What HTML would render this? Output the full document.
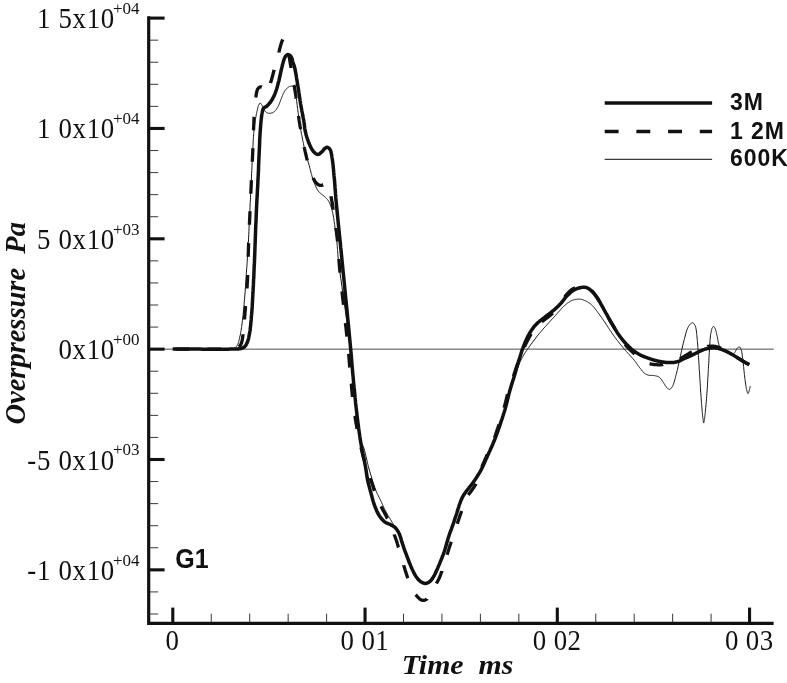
<!DOCTYPE html>
<html><head><meta charset="utf-8"><title>Overpressure G1</title>
<style>
html,body{margin:0;padding:0;background:#fff;}
body{width:787px;height:683px;overflow:hidden;}
svg{display:block;}
.tl{font-family:"Liberation Serif","Times New Roman",serif;font-size:29.2px;letter-spacing:0.76px;fill:#111;}
.sup{font-size:17px;letter-spacing:0;}
.ax{stroke:#111;stroke-width:3.2;fill:none;}
.maj{stroke:#111;stroke-width:3.1;}
.min{stroke:#222;stroke-width:0.9;}
.ttl{font-family:"Liberation Serif","Times New Roman",serif;font-weight:bold;font-style:italic;font-size:28px;fill:#111;}
.lg{font-family:"Liberation Sans",Arial,sans-serif;font-weight:bold;font-size:23px;letter-spacing:0.9px;fill:#111;}
.g1{font-family:"Liberation Sans",Arial,sans-serif;font-weight:bold;font-size:28.2px;fill:#111;}
.c{fill:none;stroke:#111;stroke-linejoin:round;}
</style></head>
<body>
<svg width="787" height="683" viewBox="0 0 787 683">
<rect width="787" height="683" fill="#fff"/>
<!-- zero line -->
<line x1="148.7" y1="349.15" x2="773.6" y2="349.15" stroke="#3a3a3a" stroke-width="0.9"/>
<!-- curves -->
<path class="c" stroke-width="3.5" d="M172.7 349.1L175.0 349.1 177.2 349.1 179.5 349.1 181.8 349.1 184.0 349.1 186.3 349.1 188.5 349.1 190.8 349.1 193.1 349.1 195.4 349.1 197.7 349.1 200.0 349.1 202.5 349.2 205.2 349.2 207.9 349.2 210.7 349.2 213.6 349.2 216.3 349.2 219.1 349.2 221.6 349.2 224.1 349.2 226.3 349.2 228.3 349.2 230.0 349.1 230.7 349.1 231.3 349.1 231.8 349.1 232.4 349.1 232.9 349.1 233.3 349.1 233.8 349.1 234.2 349.1 234.6 349.1 235.1 349.1 235.5 349.0 236.0 349.0 236.4 349.0 236.9 349.0 237.3 348.9 237.7 348.9 238.2 348.9 238.6 348.9 239.0 348.8 239.4 348.8 239.8 348.7 240.2 348.7 240.6 348.6 241.0 348.5 241.3 348.4 241.6 348.3 242.0 348.2 242.3 348.1 242.6 348.0 242.9 347.8 243.2 347.7 243.4 347.5 243.7 347.4 244.0 347.2 244.3 347.0 244.5 346.8 244.8 346.6 245.0 346.3 245.2 346.0 245.5 345.8 245.7 345.5 245.9 345.2 246.1 344.8 246.3 344.5 246.5 344.1 246.6 343.8 246.8 343.4 247.0 343.0 247.3 342.4 247.5 341.7 247.7 341.1 248.0 340.4 248.2 339.6 248.4 338.9 248.6 338.1 248.8 337.2 249.0 336.4 249.1 335.5 249.3 334.6 249.5 333.7 249.7 332.4 250.0 331.0 250.2 329.5 250.3 328.0 250.5 326.4 250.7 324.8 250.8 323.2 251.0 321.5 251.2 319.7 251.3 318.0 251.4 316.2 251.6 314.4 251.8 312.0 252.0 309.5 252.2 306.9 252.3 304.3 252.5 301.6 252.6 298.8 252.8 296.0 252.9 293.2 253.1 290.4 253.2 287.7 253.4 284.9 253.5 282.2 253.6 279.5 253.8 276.8 253.9 274.2 254.0 271.5 254.1 268.8 254.2 266.2 254.4 263.5 254.5 260.8 254.6 258.1 254.7 255.4 254.8 252.7 254.9 250.0 255.0 247.2 255.1 244.4 255.2 241.6 255.3 238.7 255.4 235.9 255.5 233.1 255.6 230.2 255.7 227.4 255.8 224.5 256.0 221.6 256.1 218.7 256.2 215.8 256.3 212.7 256.5 209.6 256.6 206.5 256.8 203.4 256.9 200.2 257.1 197.1 257.3 193.9 257.4 190.7 257.6 187.5 257.8 184.2 257.9 180.9 258.1 177.6 258.3 173.7 258.5 169.6 258.6 165.4 258.8 161.0 259.0 156.6 259.2 152.3 259.4 148.0 259.6 143.8 259.7 139.9 259.9 136.3 260.1 132.9 260.3 130.0 260.4 128.6 260.5 127.3 260.6 126.1 260.7 124.9 260.8 123.8 260.9 122.7 261.0 121.7 261.1 120.7 261.2 119.7 261.3 118.8 261.4 117.9 261.5 117.0 261.6 116.4 261.7 115.7 261.7 115.1 261.8 114.5 261.9 114.0 262.0 113.4 262.1 112.9 262.2 112.3 262.3 111.8 262.4 111.4 262.5 110.9 262.6 110.5 262.7 110.2 262.8 110.0 262.8 109.8 262.9 109.5 263.0 109.3 263.1 109.1 263.2 108.9 263.3 108.7 263.4 108.5 263.5 108.3 263.7 108.2 263.8 108.0 264.0 107.8 264.2 107.7 264.4 107.5 264.6 107.4 264.8 107.3 265.1 107.2 265.3 107.1 265.6 106.9 265.8 106.8 266.1 106.7 266.4 106.5 266.6 106.3 267.0 106.0 267.4 105.6 267.8 105.2 268.2 104.8 268.6 104.3 269.0 103.8 269.4 103.3 269.9 102.8 270.3 102.3 270.7 101.8 271.0 101.2 271.4 100.7 271.8 100.1 272.2 99.5 272.5 98.9 272.9 98.2 273.2 97.5 273.6 96.9 273.9 96.2 274.2 95.5 274.5 94.8 274.8 94.1 275.1 93.3 275.4 92.6 275.7 91.7 276.0 90.9 276.3 90.0 276.6 89.1 276.9 88.1 277.2 87.2 277.4 86.2 277.7 85.3 277.9 84.3 278.2 83.3 278.4 82.4 278.7 81.4 279.0 80.4 279.2 79.3 279.5 78.2 279.7 77.1 280.0 76.0 280.2 74.9 280.4 73.8 280.7 72.7 280.9 71.6 281.1 70.5 281.4 69.5 281.6 68.5 281.8 67.7 282.0 66.9 282.2 66.0 282.4 65.2 282.6 64.4 282.8 63.6 283.0 62.9 283.2 62.1 283.4 61.4 283.6 60.7 283.8 60.1 284.0 59.5 284.1 59.1 284.3 58.8 284.4 58.4 284.5 58.1 284.7 57.8 284.8 57.5 285.0 57.2 285.1 57.0 285.3 56.7 285.4 56.4 285.6 56.2 285.8 56.0 286.0 55.8 286.1 55.7 286.3 55.5 286.5 55.3 286.7 55.2 286.8 55.0 287.0 54.9 287.2 54.8 287.4 54.7 287.6 54.7 287.8 54.6 288.0 54.6 288.2 54.6 288.5 54.7 288.7 54.8 289.0 54.9 289.3 55.0 289.6 55.2 289.8 55.4 290.1 55.6 290.3 55.8 290.6 56.0 290.8 56.3 291.0 56.5 291.2 56.9 291.5 57.3 291.7 57.7 291.8 58.2 292.0 58.7 292.2 59.3 292.3 59.8 292.4 60.4 292.6 60.9 292.7 61.5 292.8 62.0 293.0 62.5 293.1 62.9 293.3 63.3 293.4 63.7 293.5 64.1 293.7 64.4 293.8 64.8 293.9 65.2 294.1 65.6 294.2 66.0 294.3 66.5 294.5 67.0 294.6 67.5 294.9 68.6 295.1 69.9 295.4 71.3 295.7 72.8 296.0 74.4 296.3 76.1 296.5 77.8 296.8 79.5 297.1 81.2 297.4 82.9 297.6 84.6 297.9 86.2 298.2 87.8 298.4 89.4 298.7 91.0 298.9 92.7 299.2 94.3 299.4 95.9 299.6 97.6 299.9 99.2 300.1 100.8 300.4 102.4 300.6 104.0 300.9 105.5 301.1 106.9 301.4 108.3 301.7 109.7 301.9 111.1 302.2 112.5 302.5 113.8 302.7 115.2 303.0 116.5 303.2 117.8 303.5 119.1 303.7 120.4 303.9 121.6 304.1 122.6 304.2 123.5 304.3 124.4 304.4 125.3 304.5 126.2 304.6 127.1 304.7 127.9 304.8 128.8 305.0 129.6 305.1 130.5 305.3 131.4 305.5 132.3 305.8 133.3 306.0 134.4 306.3 135.4 306.6 136.5 307.0 137.6 307.3 138.6 307.7 139.7 308.1 140.7 308.4 141.8 308.8 142.8 309.2 143.7 309.6 144.6 309.9 145.3 310.2 146.0 310.5 146.7 310.9 147.3 311.2 148.0 311.5 148.6 311.9 149.2 312.2 149.8 312.6 150.4 312.9 150.9 313.3 151.4 313.7 151.8 314.0 152.1 314.3 152.4 314.7 152.7 315.0 153.0 315.3 153.3 315.7 153.6 316.0 153.8 316.4 154.0 316.8 154.2 317.1 154.3 317.5 154.4 317.8 154.4 318.1 154.4 318.5 154.3 318.8 154.1 319.2 154.0 319.6 153.7 319.9 153.5 320.3 153.2 320.6 152.9 320.9 152.6 321.3 152.3 321.6 152.1 321.9 151.8 322.2 151.5 322.5 151.2 322.7 150.9 323.0 150.6 323.2 150.3 323.5 150.0 323.7 149.6 324.0 149.3 324.2 149.0 324.5 148.8 324.7 148.5 325.0 148.3 325.2 148.2 325.4 148.0 325.6 147.9 325.8 147.8 326.0 147.6 326.2 147.5 326.4 147.4 326.6 147.4 326.8 147.3 327.0 147.3 327.2 147.3 327.4 147.3 327.6 147.4 327.9 147.4 328.1 147.6 328.4 147.7 328.6 147.9 328.8 148.1 329.1 148.3 329.3 148.6 329.5 148.8 329.7 149.1 329.9 149.4 330.1 149.7 330.4 150.2 330.6 150.7 330.8 151.3 331.0 151.9 331.1 152.5 331.3 153.2 331.4 153.9 331.6 154.7 331.7 155.5 331.8 156.3 332.0 157.1 332.1 157.9 332.3 159.2 332.5 160.6 332.7 162.1 332.9 163.7 333.1 165.3 333.2 167.0 333.4 168.7 333.6 170.4 333.7 172.2 333.9 173.9 334.0 175.7 334.2 177.4 334.4 179.3 334.6 181.3 334.7 183.3 334.9 185.4 335.0 187.4 335.2 189.5 335.4 191.6 335.5 193.7 335.7 195.8 335.8 197.9 336.0 199.9 336.2 202.0 336.4 204.1 336.6 206.1 336.8 208.2 337.0 210.2 337.2 212.3 337.4 214.3 337.6 216.4 337.8 218.4 338.0 220.5 338.2 222.5 338.4 224.6 338.6 226.6 338.8 228.5 339.0 230.3 339.2 232.1 339.3 233.8 339.5 235.6 339.7 237.3 339.9 239.1 340.1 241.0 340.3 243.0 340.5 245.2 340.7 247.5 341.0 250.0 341.6 256.1 342.3 263.2 343.1 271.3 344.0 280.1 344.9 289.4 345.8 298.9 346.8 308.5 347.7 317.9 348.6 326.9 349.4 335.3 350.1 342.9 350.7 349.4 351.0 352.6 351.3 355.5 351.5 358.3 351.7 360.9 351.9 363.4 352.1 365.8 352.3 368.1 352.5 370.4 352.7 372.8 352.9 375.1 353.2 377.5 353.4 380.0 353.6 382.6 353.9 385.1 354.1 387.7 354.4 390.2 354.6 392.8 354.9 395.3 355.1 397.9 355.4 400.5 355.6 403.0 355.9 405.6 356.2 408.1 356.5 410.7 356.8 413.3 357.1 415.9 357.4 418.5 357.7 421.1 358.1 423.7 358.4 426.2 358.7 428.8 359.1 431.4 359.5 434.0 359.8 436.5 360.2 439.0 360.6 441.5 361.0 443.8 361.4 446.2 361.9 448.5 362.3 450.9 362.8 453.3 363.2 455.6 363.7 457.9 364.2 460.1 364.6 462.2 365.0 464.3 365.4 466.3 365.7 468.1 365.9 469.3 366.1 470.4 366.2 471.4 366.4 472.4 366.5 473.4 366.7 474.4 366.8 475.3 366.9 476.2 367.1 477.2 367.2 478.1 367.4 479.0 367.6 480.0 367.8 481.0 368.0 481.9 368.2 482.9 368.5 483.8 368.7 484.7 369.0 485.7 369.2 486.6 369.5 487.6 369.7 488.5 370.0 489.5 370.2 490.4 370.5 491.4 370.8 492.5 371.1 493.6 371.4 494.7 371.7 495.8 372.0 497.0 372.3 498.1 372.6 499.2 372.9 500.4 373.2 501.5 373.6 502.6 373.9 503.7 374.3 504.7 374.6 505.6 375.0 506.6 375.3 507.5 375.7 508.4 376.1 509.3 376.5 510.2 376.8 511.1 377.2 512.0 377.7 512.8 378.1 513.6 378.5 514.4 379.0 515.2 379.4 515.9 379.9 516.5 380.3 517.1 380.7 517.7 381.2 518.3 381.7 518.9 382.2 519.5 382.7 520.0 383.2 520.5 383.7 521.0 384.2 521.5 384.7 521.9 385.2 522.2 385.6 522.5 386.1 522.8 386.6 523.0 387.1 523.2 387.6 523.4 388.1 523.6 388.6 523.8 389.1 524.0 389.6 524.2 390.0 524.5 390.5 524.7 390.9 524.9 391.3 525.1 391.7 525.4 392.2 525.6 392.6 525.8 393.0 526.0 393.4 526.2 393.7 526.5 394.1 526.7 394.5 527.0 394.9 527.3 395.2 527.6 395.6 528.0 395.9 528.4 396.3 528.8 396.6 529.2 396.9 529.7 397.2 530.1 397.5 530.6 397.8 531.1 398.1 531.6 398.4 532.2 398.7 532.7 399.0 533.3 399.4 534.1 399.7 534.9 400.0 535.8 400.3 536.7 400.7 537.7 401.0 538.7 401.2 539.7 401.5 540.7 401.8 541.7 402.1 542.7 402.5 543.7 402.8 544.7 403.2 545.8 403.6 546.9 403.9 548.0 404.3 549.1 404.7 550.2 405.1 551.4 405.5 552.5 406.0 553.6 406.4 554.7 406.8 555.8 407.2 556.9 407.6 558.0 408.0 559.0 408.4 560.0 408.7 561.0 409.1 562.0 409.5 563.0 409.9 563.9 410.3 564.9 410.7 565.9 411.1 566.8 411.5 567.7 411.9 568.6 412.3 569.5 412.7 570.3 413.1 571.0 413.4 571.8 413.8 572.6 414.2 573.3 414.6 574.1 415.0 574.8 415.4 575.5 415.8 576.2 416.2 576.8 416.7 577.4 417.1 578.0 417.5 578.5 417.9 578.9 418.2 579.3 418.6 579.8 419.0 580.2 419.4 580.6 419.9 580.9 420.3 581.3 420.7 581.6 421.1 581.9 421.5 582.2 421.9 582.4 422.2 582.6 422.5 582.7 422.8 582.9 423.2 583.0 423.5 583.1 423.8 583.2 424.1 583.3 424.4 583.3 424.8 583.4 425.1 583.4 425.4 583.4 425.7 583.4 426.0 583.4 426.3 583.3 426.7 583.2 427.0 583.1 427.3 583.0 427.6 582.9 428.0 582.7 428.3 582.6 428.6 582.4 428.9 582.2 429.2 582.0 429.5 581.8 429.8 581.5 430.2 581.2 430.5 580.9 430.8 580.5 431.2 580.2 431.5 579.8 431.8 579.4 432.1 579.0 432.4 578.5 432.7 578.1 433.0 577.6 433.3 577.1 433.7 576.4 434.2 575.6 434.6 574.8 435.0 574.0 435.4 573.1 435.8 572.3 436.2 571.3 436.6 570.4 437.1 569.5 437.5 568.5 437.9 567.6 438.3 566.6 438.8 565.5 439.3 564.4 439.8 563.2 440.2 562.1 440.7 560.9 441.2 559.7 441.7 558.5 442.2 557.2 442.6 556.0 443.1 554.8 443.6 553.5 444.0 552.3 444.4 551.0 444.9 549.6 445.3 548.2 445.7 546.9 446.1 545.5 446.5 544.0 446.9 542.6 447.3 541.3 447.7 539.9 448.1 538.6 448.5 537.3 448.9 536.0 449.2 535.0 449.6 533.9 449.9 532.9 450.3 531.9 450.7 531.0 451.0 530.0 451.4 529.1 451.7 528.1 452.0 527.2 452.4 526.3 452.7 525.4 453.0 524.5 453.3 523.8 453.5 523.1 453.7 522.4 454.0 521.7 454.2 521.0 454.4 520.4 454.6 519.7 454.8 519.0 455.1 518.3 455.3 517.6 455.5 516.9 455.8 516.1 456.2 515.0 456.6 513.7 457.0 512.5 457.4 511.1 457.8 509.7 458.2 508.4 458.7 507.0 459.1 505.6 459.5 504.3 460.0 503.1 460.4 501.9 460.8 500.9 461.1 500.3 461.3 499.6 461.6 499.1 461.8 498.5 462.1 498.0 462.4 497.4 462.6 496.9 462.9 496.4 463.1 496.0 463.4 495.5 463.7 495.0 464.0 494.5 464.3 494.1 464.6 493.6 464.9 493.2 465.2 492.8 465.5 492.4 465.8 492.0 466.1 491.5 466.4 491.1 466.7 490.7 467.1 490.3 467.4 489.9 467.7 489.5 468.0 489.1 468.4 488.6 468.7 488.2 469.1 487.7 469.4 487.3 469.8 486.8 470.2 486.4 470.5 485.9 470.9 485.5 471.3 485.0 471.6 484.5 472.0 484.0 472.4 483.4 472.9 482.8 473.4 482.1 473.8 481.4 474.3 480.7 474.8 480.1 475.3 479.4 475.7 478.7 476.2 478.0 476.7 477.3 477.1 476.6 477.5 476.0 477.8 475.4 478.2 474.9 478.5 474.4 478.8 473.9 479.1 473.4 479.4 472.9 479.7 472.4 480.0 471.9 480.3 471.3 480.6 470.7 481.0 470.1 481.3 469.5 481.8 468.5 482.3 467.5 482.8 466.3 483.4 465.2 483.9 464.0 484.5 462.7 485.0 461.5 485.6 460.2 486.1 458.9 486.7 457.7 487.3 456.4 487.8 455.2 488.4 454.0 488.9 452.7 489.5 451.5 490.1 450.2 490.6 449.0 491.2 447.7 491.8 446.5 492.3 445.2 492.9 443.9 493.4 442.6 494.0 441.3 494.5 440.0 495.1 438.6 495.6 437.1 496.2 435.6 496.8 434.0 497.3 432.5 497.9 431.0 498.4 429.4 499.0 427.9 499.5 426.4 500.0 424.9 500.5 423.4 501.0 421.9 501.4 420.6 501.9 419.3 502.3 418.0 502.7 416.7 503.1 415.5 503.5 414.2 503.9 413.0 504.3 411.7 504.7 410.5 505.1 409.2 505.4 408.0 505.8 406.7 506.1 405.4 506.5 404.2 506.8 402.9 507.1 401.6 507.4 400.4 507.7 399.1 508.0 397.8 508.3 396.5 508.6 395.3 508.9 394.0 509.3 392.7 509.6 391.4 510.0 390.0 510.4 388.7 510.8 387.3 511.2 385.9 511.6 384.6 512.1 383.2 512.5 381.8 512.9 380.4 513.4 379.1 513.8 377.7 514.2 376.3 514.6 375.0 515.0 373.7 515.4 372.4 515.7 371.2 516.1 369.9 516.4 368.6 516.8 367.3 517.2 366.1 517.5 364.8 517.9 363.6 518.3 362.3 518.6 361.1 519.0 359.9 519.4 358.8 519.7 357.6 520.1 356.5 520.4 355.4 520.8 354.3 521.1 353.2 521.5 352.1 521.8 351.0 522.2 349.9 522.6 348.8 523.0 347.8 523.4 346.7 523.8 345.7 524.2 344.7 524.6 343.7 525.0 342.7 525.4 341.7 525.8 340.7 526.3 339.7 526.7 338.7 527.2 337.8 527.6 336.8 528.1 335.9 528.6 335.0 529.1 334.1 529.6 333.3 530.1 332.5 530.6 331.6 531.1 330.8 531.7 330.0 532.2 329.2 532.8 328.4 533.3 327.7 533.9 326.9 534.5 326.2 535.1 325.5 535.7 324.9 536.2 324.3 536.8 323.7 537.4 323.1 538.0 322.6 538.7 322.0 539.3 321.5 539.9 321.0 540.6 320.5 541.2 320.0 541.8 319.4 542.5 318.9 543.2 318.3 543.9 317.8 544.6 317.3 545.3 316.7 546.1 316.2 546.8 315.6 547.5 315.1 548.3 314.6 549.0 314.0 549.8 313.5 550.5 312.9 551.2 312.3 551.9 311.7 552.7 311.0 553.5 310.4 554.2 309.8 555.0 309.1 555.7 308.4 556.4 307.8 557.2 307.1 557.9 306.4 558.6 305.7 559.3 305.0 560.0 304.3 560.7 303.6 561.3 302.9 561.9 302.1 562.5 301.3 563.1 300.6 563.7 299.8 564.3 299.0 564.9 298.3 565.4 297.6 566.0 296.8 566.7 296.2 567.3 295.5 567.9 294.9 568.5 294.4 569.1 293.8 569.7 293.3 570.3 292.7 570.9 292.2 571.5 291.7 572.1 291.2 572.8 290.8 573.4 290.3 574.1 290.0 574.7 289.6 575.3 289.3 575.9 289.0 576.5 288.8 577.2 288.6 577.8 288.3 578.5 288.2 579.1 288.0 579.7 287.8 580.3 287.7 580.9 287.6 581.5 287.5 582.0 287.4 582.3 287.3 582.7 287.3 583.0 287.3 583.3 287.2 583.6 287.2 583.9 287.2 584.2 287.2 584.5 287.2 584.8 287.2 585.1 287.3 585.4 287.3 585.7 287.4 586.1 287.5 586.5 287.6 586.9 287.8 587.2 287.9 587.6 288.1 588.0 288.3 588.4 288.5 588.8 288.8 589.2 289.0 589.6 289.3 590.0 289.6 590.4 289.9 590.9 290.4 591.5 290.9 592.0 291.4 592.6 292.0 593.2 292.6 593.7 293.2 594.3 293.9 594.8 294.6 595.4 295.3 595.9 296.0 596.5 296.8 597.0 297.5 597.7 298.5 598.3 299.5 598.9 300.5 599.6 301.6 600.2 302.7 600.8 303.8 601.5 305.0 602.1 306.1 602.7 307.3 603.4 308.4 604.0 309.6 604.6 310.7 605.2 311.8 605.8 312.9 606.5 314.0 607.1 315.1 607.7 316.2 608.3 317.4 608.9 318.5 609.5 319.6 610.1 320.7 610.8 321.8 611.4 322.8 612.0 323.9 612.6 324.9 613.2 325.9 613.8 326.9 614.4 327.9 615.0 328.9 615.6 329.9 616.2 330.9 616.8 331.9 617.4 332.8 618.0 333.8 618.7 334.7 619.3 335.6 619.9 336.4 620.5 337.2 621.1 338.0 621.7 338.7 622.3 339.5 622.9 340.2 623.5 340.9 624.1 341.7 624.7 342.4 625.3 343.1 626.0 343.7 626.6 344.4 627.2 345.0 627.8 345.6 628.4 346.2 629.0 346.8 629.6 347.4 630.2 347.9 630.8 348.5 631.4 349.0 632.0 349.5 632.6 350.0 633.3 350.5 633.9 351.0 634.5 351.4 635.1 351.8 635.7 352.3 636.3 352.6 636.9 353.0 637.5 353.4 638.1 353.8 638.7 354.1 639.3 354.4 640.0 354.8 640.6 355.1 641.2 355.4 641.8 355.7 642.4 356.0 643.0 356.2 643.6 356.5 644.3 356.7 644.9 357.0 645.5 357.2 646.1 357.4 646.8 357.6 647.4 357.9 648.0 358.1 648.6 358.3 649.2 358.5 649.8 358.7 650.3 358.9 650.9 359.1 651.5 359.3 652.0 359.5 652.6 359.7 653.2 359.8 653.8 360.0 654.3 360.2 654.9 360.3 655.5 360.5 656.1 360.7 656.7 360.8 657.3 360.9 657.9 361.1 658.5 361.2 659.1 361.4 659.7 361.5 660.4 361.6 661.0 361.7 661.6 361.8 662.2 361.9 662.8 362.0 663.4 362.1 664.0 362.2 664.6 362.2 665.2 362.3 665.8 362.4 666.4 362.4 667.0 362.5 667.6 362.5 668.2 362.6 668.8 362.6 669.4 362.6 670.0 362.6 670.6 362.6 671.2 362.6 671.9 362.5 672.5 362.5 673.1 362.4 673.7 362.4 674.4 362.3 675.0 362.2 675.6 362.1 676.2 362.0 676.8 361.9 677.4 361.7 678.0 361.5 678.5 361.3 679.1 361.1 679.6 360.9 680.2 360.6 680.7 360.3 681.3 360.1 681.8 359.8 682.3 359.5 682.9 359.2 683.4 359.0 684.0 358.7 684.6 358.4 685.2 358.2 685.9 357.9 686.5 357.6 687.1 357.4 687.8 357.1 688.4 356.8 689.1 356.5 689.7 356.3 690.3 356.0 691.0 355.7 691.6 355.4 692.2 355.1 692.8 354.8 693.4 354.5 694.0 354.2 694.7 353.9 695.3 353.5 695.9 353.2 696.5 352.9 697.1 352.6 697.7 352.3 698.3 352.0 698.9 351.7 699.5 351.4 700.1 351.2 700.7 350.9 701.3 350.6 701.9 350.3 702.5 350.1 703.1 349.8 703.7 349.6 704.4 349.4 705.0 349.2 705.6 349.0 706.2 348.8 706.8 348.6 707.4 348.5 708.1 348.4 708.7 348.3 709.4 348.2 710.0 348.1 710.6 348.0 711.3 347.9 711.9 347.9 712.5 347.8 713.0 347.8 713.6 347.8 714.0 347.8 714.4 347.8 714.8 347.8 715.1 347.9 715.5 347.9 715.8 348.0 716.2 348.0 716.5 348.1 716.9 348.2 717.3 348.2 717.6 348.3 718.0 348.4 718.5 348.5 718.9 348.6 719.4 348.8 719.9 348.9 720.3 349.0 720.8 349.2 721.3 349.4 721.8 349.5 722.3 349.7 722.8 349.9 723.3 350.1 723.8 350.3 724.4 350.5 725.0 350.8 725.6 351.1 726.2 351.4 726.8 351.7 727.4 352.0 728.0 352.3 728.7 352.6 729.3 352.9 729.9 353.2 730.5 353.6 731.1 353.9 731.7 354.2 732.4 354.6 733.0 355.0 733.6 355.3 734.2 355.7 734.9 356.1 735.5 356.5 736.1 356.8 736.7 357.2 737.3 357.6 737.9 357.9 738.5 358.3 739.0 358.6 739.5 358.9 740.0 359.3 740.5 359.6 741.0 359.9 741.5 360.2 741.9 360.5 742.4 360.8 742.9 361.2 743.4 361.4 743.8 361.7 744.3 362.0 744.7 362.2 745.2 362.5 745.6 362.7 746.0 362.9 746.4 363.1 746.9 363.3 747.3 363.5 747.7 363.7 748.1 363.9 748.6 364.1 749.0 364.3 749.4 364.5"/>
<path class="c" stroke-width="3.3" d="M175.7 349.1L176.1 349.1 177.3 349.1 178.4 349.1 179.5 349.1 180.7 349.1 181.8 349.1 183.0 349.1 184.1 349.1 185.3 349.1 186.4 349.1 187.5 349.1 188.7 349.1 189.3 349.1 M207.5 349.2L208.1 349.2 209.3 349.2 210.5 349.2 211.7 349.2 212.9 349.2 214.1 349.2 215.2 349.2 216.4 349.2 217.5 349.2 218.6 349.2 219.6 349.2 220.7 349.2 221.1 349.2 M238.9 346.9L238.9 346.9 239.0 346.8 239.1 346.7 239.2 346.6 239.3 346.5 239.4 346.4 239.5 346.3 239.6 346.2 239.7 346.1 239.8 346.0 239.9 345.8 240.0 345.7 240.1 345.6 240.2 345.5 240.2 345.4 240.3 345.2 240.4 345.1 240.5 345.0 240.6 344.9 240.7 344.7 240.8 344.6 240.8 344.4 240.9 344.3 241.0 344.1 241.0 344.0 241.1 343.8 241.2 343.7 241.2 343.5 241.3 343.4 241.4 343.2 241.4 343.1 241.5 342.9 241.5 342.7 241.6 342.5 241.6 342.4 241.7 342.2 241.7 342.0 241.8 341.8 241.8 341.6 241.9 341.4 241.9 341.2 242.0 341.0 242.1 340.7 242.2 340.3 242.2 339.9 242.3 339.5 242.4 339.1 242.5 338.7 242.5 338.3 242.6 337.8 242.7 337.4 242.7 336.9 242.8 336.5 242.8 336.0 242.9 335.5 243.0 335.0 243.0 334.6 243.0 334.3 M244.5 319.6L244.5 319.0 244.6 318.3 244.6 317.5 244.7 316.8 244.7 316.0 244.8 315.2 244.9 314.4 244.9 313.6 245.0 312.8 245.1 311.7 245.2 310.5 245.3 309.4 245.4 308.2 245.5 306.9 245.6 306.0 M247.0 288.6L247.0 288.4 247.1 287.1 247.2 285.8 247.2 284.4 247.3 283.1 247.4 281.8 247.5 280.5 247.5 279.2 247.6 277.8 247.6 276.5 247.7 275.2 247.7 275.0 M248.2 256.8L248.2 256.6 248.2 255.3 248.3 254.0 248.3 252.7 248.4 251.3 248.4 250.0 248.4 248.7 248.5 247.3 248.5 246.0 248.6 244.7 248.6 243.3 248.7 243.2 M249.4 224.8L249.4 224.6 249.5 223.3 249.5 222.0 249.6 220.6 249.6 219.3 249.7 218.0 249.8 216.7 249.8 215.4 249.9 214.1 249.9 212.8 250.0 211.5 250.0 211.2 M250.8 193.8L250.8 193.5 250.9 192.2 250.9 190.9 251.0 189.6 251.0 188.3 251.1 187.0 251.2 185.7 251.2 184.4 251.3 183.0 251.3 181.7 251.4 180.4 251.4 180.2 M252.3 161.8L252.3 161.7 252.4 160.3 252.4 159.0 252.5 157.7 252.5 156.3 252.6 155.0 252.7 153.7 252.7 152.3 252.8 151.0 252.8 149.6 252.9 148.3 252.9 148.2 M253.5 130.4L253.6 129.4 253.6 128.2 253.7 127.0 253.7 125.8 253.8 124.7 253.8 123.6 253.8 122.8 253.9 122.1 253.9 121.4 253.9 120.6 253.9 119.9 254.0 119.2 254.0 118.5 254.0 117.9 254.0 117.2 254.1 116.8 M255.7 97.5L255.7 97.5 255.8 97.0 255.9 96.6 256.0 96.1 256.0 95.7 256.1 95.2 256.2 94.7 256.3 94.3 256.3 93.8 256.4 93.4 256.5 92.9 256.6 92.5 256.7 92.0 256.8 91.6 256.9 91.2 257.0 90.8 257.1 90.4 257.3 90.1 257.4 89.7 257.5 89.4 257.7 89.1 257.8 88.8 258.0 88.6 258.1 88.5 258.2 88.3 258.3 88.2 258.4 88.1 258.5 88.0 258.6 87.9 258.8 87.8 258.9 87.7 259.0 87.6 259.1 87.5 259.3 87.4 259.4 87.3 259.5 87.2 259.6 87.2 259.8 87.1 259.9 87.1 260.0 87.0 260.2 87.0 260.3 86.9 260.4 86.9 260.5 86.9 260.7 86.8 260.8 86.8 260.9 86.8 261.0 86.8 261.1 86.8 261.2 86.8 261.3 86.8 261.5 86.8 261.6 86.9 261.7 86.9 261.7 86.9 M270.5 83.0L270.5 82.9 270.6 82.6 270.7 82.4 270.8 82.1 270.9 81.8 271.0 81.5 271.1 81.2 271.2 80.9 271.2 80.6 271.3 80.3 271.4 80.0 271.5 79.7 271.6 79.4 271.7 79.1 271.7 78.9 271.8 78.6 271.9 78.3 272.0 78.0 272.1 77.7 272.2 77.4 272.2 77.1 272.3 76.8 272.4 76.5 272.5 76.2 272.6 75.9 272.6 75.6 272.7 75.3 272.8 75.1 272.9 74.8 272.9 74.5 273.0 74.2 273.1 73.9 273.2 73.6 273.2 73.3 273.3 73.0 273.4 72.7 273.5 72.5 273.5 72.2 273.6 71.9 273.7 71.6 273.7 71.3 273.8 71.0 273.9 70.7 274.0 70.4 274.0 70.1 274.1 69.9 M278.8 52.6L278.8 52.3 278.9 52.0 279.0 51.6 279.1 51.3 279.2 51.0 279.3 50.6 279.4 50.3 279.5 49.9 279.5 49.6 279.6 49.2 279.7 48.9 279.8 48.6 279.9 48.2 280.0 47.9 280.1 47.6 280.1 47.2 280.2 46.9 280.3 46.6 280.4 46.3 280.5 46.0 280.6 45.7 280.6 45.5 280.7 45.2 280.8 45.0 280.9 44.7 280.9 44.5 281.0 44.2 281.1 44.0 281.2 43.7 281.2 43.5 281.3 43.3 281.4 43.0 281.5 42.8 281.5 42.6 281.6 42.3 281.7 42.1 281.8 41.9 281.8 41.7 281.9 41.5 282.0 41.3 282.1 41.1 282.1 40.9 282.2 40.7 282.3 40.5 282.4 40.4 282.4 40.3 282.5 40.1 282.5 40.0 282.6 39.9 282.6 39.8 282.7 39.6 282.7 39.6 M288.7 54.5L288.8 54.8 288.9 55.2 289.0 55.7 289.1 56.1 289.2 56.6 289.2 57.0 289.3 57.5 289.4 57.9 289.5 58.4 289.6 58.9 289.6 59.3 289.7 59.8 289.8 60.3 289.9 60.7 289.9 61.2 290.0 61.7 290.1 62.2 290.2 62.7 290.2 63.1 290.3 63.6 290.4 64.1 290.5 64.6 290.5 65.0 290.6 65.5 290.7 66.0 290.8 66.5 290.9 67.0 291.0 67.5 291.0 67.9 M294.1 85.1L294.2 85.4 294.3 86.0 294.4 86.5 294.4 87.1 294.5 87.7 294.6 88.3 294.7 88.9 294.8 89.4 294.9 90.0 295.0 90.6 295.1 91.2 295.2 91.8 295.3 92.4 295.4 93.0 295.5 93.7 295.6 94.3 295.7 94.9 295.8 95.5 295.9 96.2 296.0 96.8 296.0 97.4 296.1 98.1 296.2 98.5 M298.6 115.9L298.6 116.1 298.7 116.8 298.8 117.4 298.8 118.1 298.9 118.7 299.0 119.4 299.1 120.0 299.2 120.7 299.3 121.3 299.4 122.0 299.5 122.6 299.6 123.2 299.7 123.9 299.8 124.5 299.9 125.2 300.0 125.8 300.1 126.5 300.2 127.1 300.4 127.7 300.5 128.4 300.6 129.0 300.6 129.3 M304.2 147.2L304.2 147.3 304.4 148.0 304.5 148.6 304.7 149.3 304.8 150.0 305.0 150.6 305.1 151.3 305.3 151.9 305.4 152.5 305.6 153.2 305.7 153.8 305.8 154.4 306.0 154.9 306.1 155.5 306.2 156.1 306.4 156.7 306.5 157.2 306.6 157.8 306.7 158.3 306.9 158.9 307.0 159.4 307.1 160.0 307.2 160.4 M313.1 178.0L313.3 178.4 313.4 178.7 313.6 178.9 313.7 179.2 313.9 179.4 314.0 179.7 314.1 179.9 314.3 180.2 314.4 180.4 314.6 180.6 314.7 180.9 314.8 181.1 315.0 181.3 315.1 181.5 315.3 181.7 315.4 181.9 315.6 182.1 315.7 182.3 315.9 182.5 316.0 182.7 316.2 182.9 316.3 183.0 316.5 183.2 316.6 183.3 316.8 183.5 316.9 183.6 317.1 183.7 317.2 183.8 317.3 183.9 317.4 184.0 317.6 184.1 317.7 184.2 317.8 184.3 318.0 184.4 318.1 184.5 318.2 184.6 318.4 184.7 318.5 184.7 318.6 184.8 318.8 184.9 318.9 184.9 319.0 185.0 319.2 185.1 319.3 185.1 319.5 185.2 319.6 185.2 319.7 185.2 319.9 185.3 320.0 185.3 320.1 185.3 320.2 185.3 320.4 185.4 320.5 185.4 320.6 185.4 320.7 185.4 320.8 185.4 321.0 185.4 321.1 185.4 321.2 185.4 321.3 185.3 321.4 185.3 321.6 185.3 321.7 185.3 321.8 185.3 321.9 185.3 322.0 185.2 322.2 185.2 322.3 185.2 322.4 185.1 322.5 185.1 322.7 185.1 322.8 185.0 322.9 185.0 323.0 185.0 323.2 184.9 M331.0 196.3L331.0 196.5 331.1 196.9 331.1 197.2 331.2 197.6 331.3 197.9 331.4 198.3 331.4 198.7 331.5 199.0 331.6 199.4 331.6 199.8 331.7 200.2 331.8 200.6 331.8 200.9 331.9 201.3 332.0 201.7 332.1 202.2 332.1 202.6 332.2 203.0 332.3 203.6 332.4 204.2 332.5 204.8 332.6 205.4 332.7 206.0 332.8 206.7 332.9 207.3 333.0 208.0 333.1 208.7 333.2 209.3 333.2 209.7 M335.9 228.1L335.9 228.2 336.0 228.9 336.1 229.6 336.2 230.2 336.3 230.9 336.4 231.5 336.5 232.2 336.5 232.8 336.6 233.5 336.7 234.1 336.8 234.8 336.9 235.4 337.0 236.1 337.0 236.7 337.1 237.3 337.2 238.0 337.2 238.6 337.3 239.2 337.4 239.9 337.4 240.5 337.5 241.1 337.5 241.6 M338.9 259.1L338.9 259.7 339.0 260.3 339.0 261.0 339.1 261.8 339.1 262.5 339.2 263.3 339.3 264.1 339.3 265.0 339.4 265.9 339.6 268.2 339.8 270.7 340.0 272.7 M342.0 291.4L342.3 294.2 342.7 298.1 343.2 302.1 343.5 304.9 M345.4 323.1L345.8 326.1 346.2 329.9 346.6 333.6 346.9 336.6 M348.6 353.9L348.6 353.9 348.8 355.4 348.9 356.8 349.0 358.1 349.1 359.4 349.2 360.7 349.3 362.0 349.4 363.2 349.5 364.4 349.6 365.6 349.7 366.8 349.8 367.5 M351.2 383.5L351.3 383.8 351.4 385.1 351.5 386.4 351.6 387.7 351.7 389.0 351.8 390.2 352.0 391.5 352.1 392.8 352.2 394.1 352.3 395.4 352.5 396.6 352.5 397.0 M354.8 415.7L354.9 415.9 355.1 417.2 355.3 418.5 355.5 419.8 355.7 421.1 355.9 422.4 356.1 423.7 356.4 425.0 356.6 426.3 356.8 427.6 357.1 428.9 357.1 429.1 M360.9 447.3L360.9 447.3 361.2 448.4 361.5 449.6 361.8 450.7 362.0 451.9 362.3 453.0 362.6 454.2 362.9 455.3 363.2 456.4 363.5 457.5 363.8 458.6 364.1 459.7 364.3 460.4 M370.1 478.1L370.2 478.6 370.5 479.2 370.7 479.9 371.0 480.5 371.2 481.2 371.5 481.9 371.7 482.5 371.9 483.2 372.2 483.8 372.4 484.5 372.6 485.1 372.8 485.7 373.0 486.4 373.2 487.0 373.4 487.6 373.5 488.2 373.7 488.8 373.9 489.4 374.1 490.0 374.2 490.7 374.3 491.0 M380.9 506.5L381.2 507.0 381.6 507.5 381.9 508.1 382.2 508.6 382.5 509.2 382.8 509.7 383.1 510.3 383.4 510.8 383.7 511.3 384.0 511.9 384.3 512.4 384.5 512.9 384.8 513.3 385.0 513.8 385.2 514.2 385.5 514.7 385.7 515.1 385.9 515.6 386.2 516.0 386.4 516.5 386.6 516.9 386.8 517.4 387.0 517.8 387.2 518.2 387.4 518.5 M394.3 534.5L394.3 534.6 394.4 535.0 394.6 535.3 394.7 535.6 394.8 536.0 394.9 536.3 395.1 536.7 395.2 537.0 395.3 537.4 395.4 537.7 395.5 538.1 395.7 538.4 395.8 538.7 395.9 539.1 396.0 539.5 396.1 539.8 396.3 540.2 396.4 540.5 396.5 540.9 396.6 541.3 396.8 541.7 396.9 542.1 397.0 542.5 397.1 542.9 397.3 543.3 397.4 543.8 397.5 544.2 397.6 544.6 397.8 545.0 397.9 545.4 398.0 545.9 398.1 546.3 398.3 546.7 398.4 547.2 398.5 547.4 M403.7 565.3L403.7 565.4 403.9 565.8 404.0 566.2 404.1 566.7 404.3 567.1 404.4 567.5 404.5 568.0 404.6 568.4 404.8 568.8 404.9 569.3 405.0 569.7 405.2 570.1 405.3 570.5 405.4 571.0 405.6 571.4 405.7 571.8 405.8 572.2 406.0 572.6 406.1 573.0 406.2 573.4 406.4 573.9 406.5 574.3 406.6 574.7 406.8 575.1 406.9 575.5 407.0 575.9 407.2 576.3 407.3 576.7 407.4 577.1 407.6 577.6 407.7 578.0 407.8 578.3 M415.7 594.7L415.8 594.8 416.0 595.0 416.2 595.2 416.3 595.4 416.5 595.6 416.7 595.8 416.9 596.1 417.1 596.3 417.2 596.5 417.4 596.7 417.6 596.9 417.8 597.1 418.0 597.3 418.2 597.5 418.4 597.7 418.6 597.9 418.8 598.1 419.0 598.3 419.2 598.5 419.4 598.7 419.6 598.8 419.8 599.0 419.9 599.1 420.1 599.3 420.3 599.4 420.5 599.5 420.6 599.6 420.8 599.6 420.9 599.7 421.0 599.8 421.1 599.8 421.3 599.9 421.4 600.0 421.5 600.0 421.6 600.1 421.8 600.1 421.9 600.2 422.0 600.2 422.1 600.2 422.3 600.3 422.4 600.3 422.5 600.3 422.6 600.3 422.8 600.4 422.9 600.4 423.0 600.4 423.1 600.4 423.3 600.4 423.4 600.4 423.5 600.4 423.6 600.4 423.8 600.4 423.9 600.4 424.0 600.3 424.1 600.3 424.3 600.3 424.4 600.3 424.5 600.2 424.7 600.2 424.8 600.2 424.9 600.1 425.1 600.1 425.2 600.0 425.3 599.9 425.5 599.9 425.6 599.8 425.7 599.8 425.8 599.7 426.0 599.6 426.1 599.5 426.2 599.5 426.3 599.4 426.5 599.3 426.6 599.2 426.8 599.1 426.8 599.0 M436.4 583.5L436.5 583.3 436.7 582.9 436.9 582.6 437.1 582.3 437.3 581.9 437.5 581.6 437.7 581.2 437.8 580.9 438.0 580.5 438.2 580.2 438.4 579.8 438.6 579.4 438.8 579.1 439.0 578.7 439.1 578.3 439.3 577.9 439.5 577.5 439.7 577.0 439.9 576.4 440.2 575.9 440.4 575.3 440.6 574.8 440.8 574.2 441.0 573.6 441.2 573.0 441.4 572.4 441.7 571.8 441.9 571.2 441.9 571.1 M447.1 554.7L447.1 554.7 447.3 554.0 447.5 553.4 447.7 552.8 447.9 552.1 448.1 551.5 448.3 550.8 448.5 550.2 448.7 549.5 448.9 548.9 449.1 548.2 449.3 547.6 449.5 547.0 449.7 546.3 449.9 545.6 450.1 545.0 450.4 544.3 450.6 543.7 450.8 543.0 451.0 542.4 451.2 541.8 M457.2 523.8L457.4 523.2 457.6 522.7 457.8 522.1 458.0 521.5 458.2 520.9 458.4 520.4 458.6 519.8 458.8 519.2 459.0 518.6 459.2 518.0 459.4 517.4 459.6 516.7 459.8 516.1 460.1 515.5 460.3 514.8 460.5 514.2 460.7 513.5 461.0 512.8 461.2 512.2 461.4 511.5 461.6 510.9 M468.3 495.0L468.3 495.0 468.5 494.7 468.7 494.4 468.8 494.2 469.0 493.9 469.2 493.7 469.4 493.4 469.5 493.2 469.7 493.0 469.9 492.7 470.1 492.5 470.3 492.2 470.5 492.0 470.7 491.8 470.8 491.5 471.0 491.3 471.2 491.0 471.4 490.8 471.6 490.5 471.8 490.3 471.9 490.0 472.1 489.8 472.3 489.5 472.5 489.2 472.7 488.9 472.9 488.7 473.1 488.4 473.3 488.1 473.5 487.8 473.7 487.5 473.9 487.3 474.1 487.0 474.2 486.7 474.4 486.4 474.6 486.1 474.8 485.8 475.0 485.5 475.2 485.2 475.4 484.9 475.6 484.6 475.8 484.3 475.9 484.0 476.0 483.8 M481.9 466.8L482.0 466.4 482.3 465.8 482.6 465.2 482.8 464.5 483.1 463.9 483.4 463.3 483.7 462.7 483.9 462.1 484.2 461.4 484.5 460.8 484.8 460.2 485.1 459.6 485.3 458.9 485.6 458.3 485.9 457.7 486.2 457.1 486.5 456.4 486.7 455.8 487.0 455.2 487.3 454.6 487.4 454.3 M494.5 437.7L494.7 437.1 495.0 436.3 495.2 435.6 495.5 434.8 495.8 434.0 496.0 433.3 496.3 432.5 496.6 431.7 496.8 431.0 497.1 430.2 497.3 429.4 497.6 428.7 497.9 427.9 498.1 427.1 498.4 426.4 498.6 425.6 498.8 424.9 498.9 424.8 M504.2 407.6L504.2 407.3 504.4 406.7 504.6 406.1 504.7 405.4 504.9 404.8 505.1 404.2 505.2 403.5 505.4 402.9 505.5 402.3 505.7 401.6 505.9 401.0 506.0 400.4 506.2 399.7 506.3 399.1 506.5 398.4 506.6 397.8 506.8 397.2 506.9 396.5 507.1 395.9 507.2 395.3 507.4 394.6 507.5 394.4 M513.3 376.3L513.6 375.7 513.8 375.0 514.0 374.4 514.2 373.7 514.5 373.1 514.7 372.4 514.9 371.8 515.1 371.1 515.3 370.5 515.5 369.9 515.7 369.2 515.9 368.6 516.2 367.9 516.4 367.3 516.6 366.7 516.8 366.0 517.0 365.4 517.2 364.8 517.4 364.2 517.7 363.6 517.7 363.4 M524.9 345.9L525.0 345.9 525.2 345.4 525.4 344.9 525.6 344.4 525.8 344.0 526.1 343.5 526.3 343.0 526.5 342.5 526.7 342.1 526.9 341.6 527.2 341.1 527.4 340.7 527.6 340.2 527.9 339.8 528.1 339.3 528.3 338.9 528.6 338.4 528.8 338.0 529.0 337.5 529.3 337.1 529.5 336.6 529.8 336.2 530.0 335.8 530.3 335.4 530.5 335.0 530.8 334.6 531.0 334.2 531.2 333.9 M542.0 321.7L542.2 321.6 542.5 321.3 542.9 321.0 543.2 320.8 543.5 320.5 543.8 320.2 544.2 319.9 544.5 319.7 544.9 319.4 545.2 319.1 545.6 318.9 545.9 318.6 546.3 318.3 546.7 318.1 547.0 317.8 547.4 317.5 547.8 317.3 548.1 317.0 548.5 316.7 548.8 316.4 549.2 316.2 549.6 315.9 549.9 315.6 550.3 315.3 550.6 315.0 551.0 314.7 551.3 314.4 551.7 314.1 552.0 313.8 552.4 313.5 552.6 313.2 M564.8 296.9L564.9 296.9 565.1 296.4 565.4 296.0 565.7 295.6 566.0 295.2 566.3 294.9 566.6 294.5 566.9 294.2 567.2 293.9 567.4 293.6 567.7 293.3 568.0 292.9 568.3 292.6 568.6 292.4 568.9 292.1 569.2 291.8 569.5 291.5 569.8 291.2 570.1 290.9 570.4 290.7 570.7 290.4 571.1 290.2 571.4 289.9 571.7 289.7 572.0 289.5 572.3 289.2 572.7 289.0 573.0 288.8 573.3 288.6 573.7 288.5 574.0 288.3 574.3 288.2 574.6 288.0 574.8 288.0 M591.6 290.6L591.8 290.9 592.1 291.2 592.4 291.4 592.6 291.7 592.9 292.0 593.1 292.3 593.4 292.6 593.7 292.9 593.9 293.3 594.2 293.6 594.4 293.9 594.7 294.3 594.9 294.6 595.2 295.0 595.5 295.3 595.7 295.7 596.0 296.0 596.2 296.4 596.5 296.8 596.7 297.1 597.0 297.5 597.3 298.0 597.6 298.5 598.0 299.0 598.3 299.5 598.6 300.0 598.9 300.5 599.2 301.0 599.6 301.6 599.6 301.6 M608.4 317.5L608.6 317.9 608.9 318.5 609.2 319.0 609.5 319.6 609.8 320.1 610.1 320.7 610.4 321.2 610.8 321.8 611.1 322.3 611.4 322.8 611.7 323.4 612.0 323.9 612.3 324.4 612.6 324.9 612.9 325.4 613.2 325.9 613.5 326.4 613.8 326.9 614.1 327.4 614.4 327.9 614.7 328.4 615.0 328.9 615.2 329.2 M625.1 344.4L625.4 344.8 625.7 345.1 626.0 345.5 626.3 345.8 626.6 346.2 626.8 346.5 627.1 346.8 627.4 347.1 627.7 347.4 628.0 347.7 628.2 348.0 628.5 348.3 628.8 348.6 629.1 348.9 629.4 349.2 629.7 349.5 630.0 349.7 630.3 350.0 630.6 350.3 630.9 350.6 631.2 350.9 631.5 351.1 631.8 351.4 632.1 351.7 632.4 352.0 632.7 352.2 633.0 352.5 633.3 352.8 633.6 353.0 633.9 353.3 634.2 353.6 634.5 353.8 634.7 354.0 M649.6 363.6L649.6 363.6 650.0 363.7 650.3 363.8 650.6 363.9 650.8 364.0 651.1 364.0 651.4 364.1 651.6 364.2 651.9 364.2 652.2 364.3 652.4 364.3 652.7 364.4 652.9 364.4 653.2 364.4 653.5 364.5 653.7 364.5 654.0 364.5 654.2 364.5 654.5 364.6 654.7 364.6 655.0 364.6 655.3 364.6 655.5 364.6 655.8 364.7 656.0 364.7 656.3 364.7 656.6 364.7 656.8 364.7 657.1 364.7 657.3 364.8 657.6 364.8 657.8 364.8 658.1 364.8 658.3 364.8 658.6 364.8 658.9 364.8 659.1 364.8 659.4 364.8 659.6 364.8 659.9 364.8 660.1 364.8 660.4 364.8 660.7 364.8 660.9 364.7 661.2 364.7 661.4 364.7 661.7 364.7 662.0 364.7 662.2 364.6 662.5 364.6 662.8 364.6 663.1 364.5 M680.1 358.7L680.2 358.7 680.4 358.6 680.6 358.5 680.8 358.3 681.1 358.2 681.3 358.1 681.5 357.9 681.8 357.8 682.0 357.7 682.2 357.5 682.5 357.4 682.7 357.2 683.0 357.1 683.2 356.9 683.5 356.8 683.7 356.6 684.0 356.5 684.3 356.3 684.5 356.2 684.8 356.0 685.0 355.9 685.3 355.7 685.5 355.6 685.8 355.4 686.0 355.3 686.2 355.2 686.5 355.0 686.7 354.9 687.0 354.7 687.2 354.6 687.5 354.4 687.7 354.3 687.9 354.1 688.2 354.0 688.4 353.8 688.7 353.7 688.9 353.5 689.1 353.4 689.4 353.2 689.6 353.1 689.9 352.9 690.1 352.8 690.4 352.6 690.6 352.5 690.9 352.3 691.1 352.2 691.4 352.1 691.6 351.9 691.8 351.8 M707.5 346.5L707.6 346.5 707.7 346.4 707.8 346.4 708.0 346.4 708.1 346.4 708.2 346.3 708.3 346.3 708.4 346.3 708.5 346.3 708.7 346.3 708.8 346.2 708.9 346.2 709.1 346.2 709.2 346.2 709.4 346.2 709.6 346.2 709.8 346.2 710.0 346.1 710.2 346.1 710.4 346.1 710.6 346.1 710.8 346.1 711.0 346.1 711.2 346.1 711.4 346.1 711.7 346.1 711.9 346.1 712.1 346.1 712.3 346.1 712.6 346.1 712.8 346.2 713.0 346.2 713.2 346.2 713.4 346.2 713.7 346.2 713.9 346.2 714.1 346.3 714.3 346.3 714.5 346.3 714.7 346.4 714.9 346.4 715.2 346.4 715.4 346.5 715.6 346.5 715.8 346.6 716.0 346.6 716.2 346.6 716.4 346.7 716.6 346.7 716.9 346.8 717.1 346.8 717.3 346.9 717.5 347.0 717.7 347.0 717.9 347.1 718.1 347.2 718.3 347.2 718.6 347.3 718.8 347.4 719.0 347.4 719.2 347.5 719.4 347.6 719.6 347.7 719.9 347.8 720.1 347.9 720.3 348.0 720.6 348.1 720.8 348.2 720.8 348.2 M737.4 357.8L737.5 357.9 737.8 358.1 738.0 358.2 738.3 358.4 738.5 358.5 738.8 358.7 739.1 358.8 739.3 359.0 739.6 359.2 739.8 359.3 740.1 359.5 740.3 359.6 740.6 359.8 740.9 359.9 741.1 360.1 741.4 360.2 741.6 360.4 741.9 360.5 742.2 360.7 742.4 360.8 742.7 361.0 742.9 361.1 743.2 361.3 743.5 361.5 743.7 361.6 744.0 361.8 744.2 361.9 744.5 362.1 744.7 362.2 745.0 362.4 745.3 362.5 745.5 362.7 745.8 362.8 746.0 363.0 746.3 363.1 746.6 363.3 746.8 363.4 747.1 363.6 747.3 363.7 747.6 363.9 747.8 364.0 748.1 364.2 748.4 364.3 748.6 364.5 748.9 364.6 749.1 364.7"/>
<path class="c" stroke-width="1.0" d="M172.7 349.1L175.0 349.1 177.3 349.1 179.6 349.1 181.9 349.1 184.2 349.1 186.5 349.1 188.7 349.1 191.0 349.1 193.3 349.1 195.6 349.1 197.8 349.1 200.0 349.1 202.1 349.2 204.3 349.2 206.5 349.2 208.7 349.2 210.9 349.2 213.1 349.2 215.2 349.2 217.2 349.2 219.2 349.2 220.9 349.2 222.6 349.2 224.0 349.1 224.6 349.1 225.2 349.1 225.8 349.1 226.3 349.1 226.8 349.1 227.3 349.1 227.8 349.1 228.2 349.1 228.7 349.1 229.1 349.1 229.6 349.0 230.0 349.0 230.4 349.0 230.8 348.9 231.1 348.9 231.5 348.9 231.9 348.9 232.2 348.8 232.6 348.8 232.9 348.7 233.2 348.7 233.6 348.6 233.9 348.4 234.2 348.3 234.5 348.1 234.8 347.9 235.1 347.7 235.4 347.5 235.7 347.2 235.9 347.0 236.2 346.7 236.5 346.4 236.7 346.0 237.0 345.7 237.2 345.4 237.4 345.0 237.7 344.5 237.9 343.9 238.2 343.3 238.4 342.7 238.6 342.1 238.8 341.4 238.9 340.7 239.1 340.0 239.3 339.3 239.5 338.5 239.6 337.8 239.8 337.0 240.0 336.0 240.3 334.9 240.5 333.8 240.7 332.6 240.9 331.5 241.1 330.3 241.3 329.0 241.5 327.8 241.7 326.5 241.8 325.2 242.0 323.9 242.2 322.5 242.4 320.7 242.7 318.9 242.9 316.9 243.1 315.0 243.3 313.0 243.5 310.9 243.7 308.8 243.9 306.7 244.1 304.6 244.2 302.5 244.4 300.4 244.6 298.3 244.8 296.0 245.0 293.7 245.2 291.3 245.3 288.9 245.5 286.4 245.7 284.0 245.8 281.6 246.0 279.2 246.1 276.8 246.3 274.5 246.4 272.2 246.6 270.0 246.7 268.2 246.9 266.5 247.0 264.9 247.1 263.3 247.2 261.7 247.3 260.1 247.4 258.5 247.6 256.9 247.7 255.2 247.8 253.6 247.9 251.8 248.0 250.0 248.1 247.6 248.3 245.1 248.4 242.5 248.5 239.9 248.6 237.2 248.8 234.4 248.9 231.7 249.0 228.9 249.1 226.1 249.3 223.4 249.4 220.7 249.5 218.0 249.6 215.4 249.7 212.8 249.9 210.2 250.0 207.6 250.1 205.1 250.2 202.5 250.4 199.9 250.5 197.4 250.6 194.8 250.8 192.2 250.9 189.6 251.0 187.0 251.1 184.3 251.3 181.6 251.4 178.9 251.5 176.1 251.6 173.3 251.8 170.6 251.9 167.8 252.0 165.1 252.1 162.5 252.3 159.9 252.4 157.4 252.5 155.0 252.6 153.1 252.7 151.3 252.8 149.5 252.9 147.7 253.0 145.9 253.1 144.2 253.1 142.5 253.2 140.9 253.3 139.3 253.4 137.8 253.5 136.3 253.6 135.0 253.7 134.2 253.7 133.4 253.8 132.7 253.8 131.9 253.9 131.2 253.9 130.6 254.0 129.9 254.0 129.3 254.1 128.6 254.2 128.0 254.2 127.3 254.3 126.7 254.4 126.1 254.4 125.5 254.5 125.0 254.6 124.4 254.7 123.9 254.8 123.3 254.8 122.8 254.9 122.2 255.0 121.7 255.1 121.1 255.2 120.6 255.3 120.0 255.4 119.4 255.5 118.7 255.7 118.0 255.8 117.4 255.9 116.7 256.1 116.0 256.2 115.3 256.3 114.6 256.5 114.0 256.6 113.3 256.8 112.6 256.9 112.0 257.0 111.4 257.1 110.8 257.3 110.2 257.4 109.7 257.5 109.1 257.6 108.5 257.8 107.9 257.9 107.4 258.0 106.9 258.2 106.4 258.3 105.9 258.5 105.5 258.6 105.2 258.7 105.0 258.9 104.7 259.0 104.4 259.1 104.2 259.3 103.9 259.4 103.7 259.5 103.5 259.7 103.4 259.8 103.2 260.0 103.1 260.1 103.1 260.2 103.1 260.4 103.2 260.5 103.2 260.6 103.3 260.8 103.5 260.9 103.6 261.0 103.8 261.2 104.0 261.3 104.1 261.4 104.3 261.6 104.5 261.7 104.7 261.9 105.0 262.1 105.3 262.2 105.6 262.4 105.9 262.6 106.2 262.8 106.6 262.9 107.0 263.1 107.3 263.3 107.7 263.4 108.0 263.6 108.4 263.8 108.7 264.0 109.0 264.1 109.3 264.3 109.6 264.4 109.9 264.6 110.2 264.7 110.5 264.9 110.8 265.0 111.1 265.2 111.3 265.4 111.6 265.6 111.8 265.8 112.0 266.0 112.2 266.3 112.3 266.5 112.5 266.7 112.6 267.0 112.8 267.3 112.9 267.6 113.0 267.8 113.1 268.1 113.2 268.4 113.2 268.7 113.3 269.0 113.3 269.4 113.3 269.8 113.3 270.2 113.3 270.6 113.2 271.0 113.1 271.4 113.0 271.8 112.9 272.2 112.8 272.7 112.6 273.1 112.4 273.4 112.2 273.8 112.0 274.2 111.7 274.6 111.4 274.9 111.1 275.3 110.7 275.6 110.3 276.0 109.9 276.3 109.5 276.6 109.0 276.9 108.5 277.2 108.1 277.5 107.6 277.8 107.1 278.1 106.5 278.4 105.9 278.7 105.3 279.0 104.6 279.3 103.9 279.5 103.2 279.8 102.5 280.1 101.8 280.3 101.1 280.6 100.4 280.8 99.8 281.1 99.1 281.4 98.5 281.6 97.8 281.9 97.2 282.1 96.5 282.4 95.9 282.6 95.3 282.9 94.6 283.2 94.0 283.4 93.4 283.7 92.9 284.0 92.3 284.3 91.8 284.5 91.4 284.8 91.0 285.0 90.6 285.3 90.3 285.6 89.9 285.8 89.6 286.1 89.2 286.4 88.9 286.6 88.6 286.9 88.3 287.2 88.0 287.5 87.8 287.8 87.6 288.0 87.4 288.3 87.2 288.5 87.1 288.8 86.9 289.1 86.8 289.4 86.6 289.6 86.5 289.9 86.4 290.2 86.3 290.4 86.3 290.7 86.2 290.9 86.2 291.1 86.1 291.3 86.1 291.5 86.1 291.8 86.1 292.0 86.1 292.2 86.1 292.4 86.1 292.6 86.1 292.7 86.2 292.9 86.3 293.1 86.4 293.3 86.6 293.6 86.9 293.8 87.2 294.0 87.6 294.1 88.1 294.3 88.5 294.5 89.0 294.6 89.5 294.8 90.1 294.9 90.7 295.1 91.2 295.2 91.8 295.4 92.8 295.7 93.9 295.9 95.0 296.0 96.3 296.2 97.6 296.4 98.9 296.6 100.2 296.7 101.6 296.9 103.0 297.1 104.4 297.2 105.7 297.4 107.0 297.6 108.3 297.7 109.6 297.9 110.9 298.1 112.2 298.2 113.5 298.4 114.8 298.6 116.1 298.8 117.4 298.9 118.7 299.1 120.0 299.3 121.3 299.5 122.6 299.7 123.9 299.9 125.2 300.2 126.5 300.4 127.8 300.6 129.2 300.9 130.5 301.1 131.8 301.3 133.1 301.6 134.4 301.8 135.6 302.1 136.8 302.3 138.0 302.5 139.0 302.7 139.9 302.8 140.7 303.0 141.6 303.2 142.5 303.4 143.3 303.6 144.1 303.7 145.0 303.9 145.9 304.1 146.8 304.4 147.7 304.6 148.7 304.9 150.1 305.3 151.5 305.7 153.0 306.1 154.6 306.5 156.1 307.0 157.7 307.4 159.3 307.9 161.0 308.3 162.5 308.8 164.1 309.2 165.6 309.6 167.1 309.9 168.4 310.3 169.6 310.6 170.9 310.9 172.1 311.2 173.4 311.6 174.6 311.9 175.8 312.2 177.0 312.6 178.1 312.9 179.3 313.3 180.4 313.7 181.5 314.1 182.4 314.4 183.4 314.8 184.3 315.2 185.2 315.6 186.1 316.0 187.0 316.4 187.9 316.9 188.7 317.3 189.5 317.8 190.3 318.3 191.0 318.8 191.7 319.3 192.2 319.8 192.7 320.3 193.2 320.8 193.6 321.3 194.1 321.9 194.5 322.5 194.9 323.0 195.2 323.5 195.6 324.0 196.0 324.5 196.5 325.0 196.9 325.4 197.3 325.8 197.7 326.2 198.1 326.5 198.5 326.9 198.9 327.2 199.3 327.6 199.7 327.9 200.1 328.2 200.5 328.5 201.0 328.8 201.5 329.1 202.0 329.5 202.7 329.8 203.4 330.1 204.2 330.4 205.0 330.7 205.8 331.0 206.7 331.3 207.6 331.5 208.5 331.8 209.4 332.0 210.3 332.3 211.2 332.5 212.2 332.8 213.4 333.1 214.7 333.3 216.0 333.6 217.4 333.8 218.8 334.0 220.2 334.2 221.6 334.4 223.1 334.6 224.5 334.8 225.9 335.0 227.3 335.2 228.6 335.4 229.8 335.5 231.0 335.7 232.2 335.9 233.4 336.0 234.6 336.2 235.8 336.3 237.0 336.5 238.1 336.6 239.3 336.7 240.5 336.9 241.8 337.0 243.0 337.1 244.3 337.2 245.6 337.3 246.8 337.4 248.1 337.5 249.3 337.6 250.6 337.7 251.9 337.8 253.3 337.9 254.8 338.0 256.4 338.2 258.1 338.4 260.0 339.0 265.1 339.8 271.4 340.8 278.5 341.9 286.3 343.0 294.6 344.3 303.2 345.5 311.9 346.7 320.5 347.8 328.7 348.9 336.4 349.8 343.4 350.5 349.4 350.8 352.5 351.1 355.4 351.4 358.2 351.7 360.8 351.9 363.3 352.1 365.7 352.3 368.1 352.5 370.4 352.6 372.7 352.8 375.1 353.1 377.5 353.3 380.0 353.5 382.6 353.8 385.1 354.0 387.7 354.3 390.2 354.6 392.8 354.8 395.3 355.1 397.9 355.3 400.5 355.6 403.0 355.9 405.6 356.2 408.1 356.5 410.7 356.8 413.3 357.1 416.1 357.4 419.0 357.8 421.9 358.1 424.8 358.4 427.6 358.8 430.4 359.1 433.0 359.5 435.5 359.9 437.8 360.3 439.8 360.8 441.5 361.0 442.2 361.3 442.8 361.5 443.3 361.7 443.8 362.0 444.2 362.2 444.6 362.5 445.0 362.7 445.5 363.0 445.9 363.2 446.4 363.5 447.0 363.7 447.6 364.1 448.9 364.5 450.3 364.9 451.8 365.3 453.5 365.7 455.2 366.1 457.0 366.6 458.9 367.0 460.7 367.4 462.6 367.9 464.5 368.3 466.3 368.8 468.1 369.3 470.0 369.9 471.9 370.5 473.9 371.1 475.9 371.7 477.9 372.3 479.9 372.9 481.9 373.5 483.8 374.2 485.7 374.8 487.5 375.4 489.1 376.0 490.7 376.4 491.7 376.8 492.7 377.2 493.6 377.7 494.5 378.1 495.3 378.5 496.1 378.9 497.0 379.3 497.7 379.7 498.5 380.1 499.3 380.5 500.1 380.9 500.9 381.2 501.6 381.5 502.3 381.8 503.0 382.1 503.7 382.4 504.4 382.7 505.0 383.0 505.7 383.3 506.4 383.6 507.0 383.9 507.7 384.2 508.4 384.5 509.0 384.8 509.6 385.1 510.2 385.4 510.8 385.8 511.4 386.1 512.0 386.4 512.6 386.8 513.2 387.1 513.8 387.4 514.4 387.8 515.0 388.1 515.6 388.5 516.2 388.9 516.9 389.4 517.7 389.9 518.5 390.4 519.4 390.9 520.2 391.4 521.1 391.9 521.9 392.3 522.7 392.8 523.4 393.2 524.1 393.6 524.7 393.9 525.3 394.0 525.5 394.2 525.8 394.3 526.0 394.4 526.1 394.5 526.3 394.6 526.5 394.6 526.7 394.7 526.8 394.8 527.0 394.9 527.2 395.1 527.4 395.2 527.6 395.4 528.0 395.7 528.4 396.0 528.8 396.3 529.2 396.7 529.7 397.0 530.1 397.4 530.6 397.7 531.1 398.1 531.6 398.4 532.2 398.7 532.7 399.0 533.3 399.4 534.1 399.7 534.9 400.0 535.8 400.3 536.7 400.7 537.7 401.0 538.7 401.2 539.7 401.5 540.7 401.8 541.7 402.1 542.7 402.5 543.7 402.8 544.7 403.2 545.8 403.6 546.9 403.9 548.0 404.3 549.1 404.7 550.2 405.1 551.4 405.5 552.5 406.0 553.6 406.4 554.7 406.8 555.8 407.2 556.9 407.6 558.0 408.0 559.0 408.4 560.0 408.7 561.0 409.1 562.0 409.5 563.0 409.9 563.9 410.3 564.9 410.7 565.9 411.1 566.8 411.5 567.7 411.9 568.6 412.3 569.5 412.7 570.3 413.1 571.0 413.4 571.8 413.8 572.6 414.2 573.3 414.6 574.1 415.0 574.8 415.4 575.5 415.8 576.2 416.2 576.8 416.7 577.4 417.1 578.0 417.5 578.5 417.9 578.9 418.2 579.3 418.6 579.8 419.0 580.2 419.4 580.6 419.9 580.9 420.3 581.3 420.7 581.6 421.1 581.9 421.5 582.2 421.9 582.4 422.2 582.6 422.5 582.7 422.8 582.9 423.2 583.0 423.5 583.1 423.8 583.2 424.1 583.3 424.4 583.3 424.8 583.4 425.1 583.4 425.4 583.4 425.7 583.4 426.0 583.4 426.3 583.3 426.7 583.2 427.0 583.1 427.3 583.0 427.6 582.9 428.0 582.7 428.3 582.6 428.6 582.4 428.9 582.2 429.2 582.0 429.5 581.8 429.8 581.5 430.2 581.2 430.5 580.9 430.8 580.5 431.2 580.2 431.5 579.8 431.8 579.4 432.1 579.0 432.4 578.5 432.7 578.1 433.0 577.6 433.3 577.1 433.7 576.4 434.2 575.6 434.6 574.8 435.0 574.0 435.4 573.1 435.8 572.3 436.2 571.3 436.6 570.4 437.1 569.5 437.5 568.5 437.9 567.6 438.3 566.6 438.8 565.5 439.3 564.4 439.8 563.2 440.2 562.1 440.7 560.9 441.2 559.7 441.7 558.5 442.2 557.2 442.6 556.0 443.1 554.8 443.6 553.5 444.0 552.3 444.4 551.0 444.9 549.6 445.3 548.2 445.7 546.9 446.1 545.5 446.5 544.0 446.9 542.6 447.3 541.3 447.7 539.9 448.1 538.6 448.5 537.3 448.9 536.0 449.2 535.0 449.6 533.9 449.9 532.9 450.3 531.9 450.7 531.0 451.0 530.0 451.4 529.1 451.7 528.1 452.0 527.2 452.4 526.3 452.7 525.4 453.0 524.5 453.3 523.8 453.5 523.1 453.7 522.4 454.0 521.7 454.2 521.0 454.4 520.4 454.6 519.7 454.8 519.0 455.1 518.3 455.3 517.6 455.5 516.9 455.8 516.1 456.2 515.0 456.6 513.7 457.0 512.5 457.4 511.1 457.8 509.7 458.2 508.4 458.7 507.0 459.1 505.6 459.5 504.3 460.0 503.1 460.4 501.9 460.8 500.9 461.1 500.3 461.3 499.6 461.6 499.1 461.8 498.5 462.1 498.0 462.4 497.4 462.6 496.9 462.9 496.4 463.1 496.0 463.4 495.5 463.7 495.0 464.0 494.5 464.3 494.1 464.6 493.6 464.9 493.2 465.2 492.8 465.5 492.4 465.8 492.0 466.1 491.5 466.4 491.1 466.7 490.7 467.1 490.3 467.4 489.9 467.7 489.5 468.0 489.1 468.4 488.6 468.7 488.2 469.1 487.7 469.4 487.3 469.8 486.8 470.2 486.4 470.5 485.9 470.9 485.5 471.3 485.0 471.6 484.5 472.0 484.0 472.4 483.4 472.9 482.8 473.4 482.1 473.8 481.4 474.3 480.7 474.8 480.1 475.3 479.4 475.7 478.7 476.2 478.0 476.7 477.3 477.1 476.6 477.5 476.0 477.8 475.4 478.2 474.9 478.5 474.4 478.8 473.9 479.1 473.4 479.4 472.9 479.7 472.4 480.0 471.9 480.3 471.3 480.6 470.7 481.0 470.1 481.3 469.5 481.8 468.5 482.3 467.5 482.8 466.3 483.4 465.2 483.9 464.0 484.5 462.7 485.0 461.5 485.6 460.2 486.1 458.9 486.7 457.7 487.3 456.4 487.8 455.2 488.4 454.0 488.9 452.7 489.5 451.5 490.1 450.2 490.6 449.0 491.2 447.7 491.8 446.5 492.3 445.2 492.9 443.9 493.4 442.6 494.0 441.3 494.5 440.0 495.1 438.6 495.6 437.1 496.2 435.6 496.8 434.0 497.3 432.5 497.9 431.0 498.4 429.4 499.0 427.9 499.5 426.4 500.0 424.9 500.5 423.4 501.0 421.9 501.4 420.6 501.9 419.3 502.3 418.0 502.7 416.7 503.1 415.5 503.5 414.2 503.9 413.0 504.3 411.7 504.7 410.5 505.1 409.2 505.4 408.0 505.8 406.7 506.1 405.4 506.5 404.2 506.8 402.9 507.1 401.6 507.4 400.3 507.7 399.1 508.0 397.8 508.3 396.5 508.6 395.2 508.9 393.9 509.2 392.7 509.6 391.4 510.0 390.1 510.4 388.8 510.8 387.5 511.2 386.2 511.6 384.9 512.0 383.6 512.5 382.3 512.9 381.0 513.3 379.7 513.8 378.4 514.2 377.2 514.6 376.0 515.0 375.0 515.3 373.9 515.7 372.9 516.0 371.9 516.4 370.9 516.8 369.9 517.1 369.0 517.5 368.0 517.9 367.1 518.2 366.1 518.6 365.2 519.0 364.3 519.3 363.5 519.7 362.7 520.0 362.0 520.4 361.2 520.7 360.5 521.1 359.8 521.5 359.1 521.8 358.4 522.2 357.6 522.6 356.9 523.0 356.2 523.4 355.5 523.8 354.8 524.3 354.0 524.7 353.3 525.2 352.6 525.7 351.9 526.2 351.1 526.7 350.4 527.2 349.7 527.7 349.0 528.2 348.2 528.8 347.5 529.3 346.7 530.0 345.8 530.6 344.8 531.3 343.9 532.1 342.9 532.8 341.9 533.6 340.9 534.3 339.9 535.1 338.9 535.8 337.9 536.6 336.9 537.3 335.9 538.1 335.0 538.8 334.1 539.5 333.2 540.3 332.4 541.0 331.5 541.7 330.7 542.5 329.8 543.2 329.0 543.9 328.1 544.7 327.3 545.4 326.5 546.2 325.6 546.9 324.8 547.6 324.0 548.3 323.2 549.1 322.4 549.8 321.6 550.5 320.8 551.2 320.0 552.0 319.2 552.7 318.5 553.4 317.7 554.1 316.9 554.9 316.1 555.6 315.3 556.3 314.5 557.1 313.7 557.8 312.8 558.5 312.0 559.3 311.1 560.0 310.3 560.7 309.4 561.5 308.6 562.2 307.8 562.9 307.1 563.7 306.4 564.4 305.7 565.0 305.2 565.6 304.7 566.2 304.2 566.8 303.7 567.4 303.2 568.1 302.8 568.7 302.3 569.3 301.9 569.9 301.6 570.5 301.2 571.1 300.9 571.7 300.6 572.2 300.4 572.7 300.2 573.2 300.0 573.7 299.9 574.2 299.7 574.7 299.6 575.2 299.5 575.7 299.4 576.2 299.4 576.7 299.3 577.1 299.2 577.6 299.2 578.0 299.2 578.4 299.2 578.7 299.1 579.1 299.1 579.5 299.1 579.8 299.2 580.2 299.2 580.5 299.2 580.9 299.3 581.3 299.3 581.6 299.4 582.0 299.5 582.5 299.6 582.9 299.8 583.4 300.0 583.9 300.2 584.4 300.4 584.9 300.6 585.4 300.8 585.9 301.1 586.4 301.3 586.9 301.6 587.4 301.8 587.8 302.1 588.2 302.3 588.6 302.6 588.9 302.8 589.3 303.0 589.6 303.3 590.0 303.5 590.3 303.7 590.6 304.0 591.0 304.3 591.3 304.6 591.7 304.9 592.0 305.2 592.4 305.6 592.9 306.1 593.3 306.6 593.7 307.1 594.2 307.6 594.6 308.2 595.1 308.7 595.5 309.3 595.9 309.9 596.4 310.5 596.8 311.1 597.3 311.7 597.9 312.5 598.5 313.3 599.1 314.1 599.7 314.9 600.3 315.8 600.9 316.7 601.5 317.5 602.1 318.4 602.8 319.3 603.4 320.2 604.0 321.1 604.6 322.0 605.2 322.9 605.8 323.8 606.5 324.8 607.1 325.7 607.7 326.7 608.3 327.6 608.9 328.6 609.5 329.5 610.1 330.5 610.8 331.4 611.4 332.3 612.0 333.2 612.6 334.0 613.2 334.9 613.8 335.7 614.4 336.6 615.0 337.4 615.6 338.2 616.2 339.0 616.8 339.8 617.5 340.6 618.1 341.4 618.7 342.2 619.3 343.0 619.9 343.8 620.5 344.5 621.1 345.2 621.7 346.0 622.3 346.7 622.9 347.4 623.5 348.1 624.1 348.9 624.8 349.6 625.4 350.3 626.0 351.0 626.6 351.7 627.2 352.4 627.8 353.1 628.4 353.7 629.1 354.4 629.7 355.1 630.3 355.8 630.9 356.4 631.5 357.1 632.2 357.8 632.7 358.4 633.3 359.1 633.9 359.8 634.4 360.5 635.0 361.1 635.5 361.8 636.0 362.5 636.5 363.2 637.0 363.9 637.4 364.6 637.9 365.3 638.4 365.9 638.9 366.6 639.3 367.2 639.8 367.8 640.2 368.3 640.5 368.8 640.9 369.3 641.3 369.7 641.6 370.2 642.0 370.7 642.3 371.1 642.7 371.5 643.1 371.9 643.4 372.3 643.8 372.7 644.2 373.0 644.5 373.3 644.9 373.5 645.2 373.7 645.6 373.9 645.9 374.2 646.3 374.3 646.7 374.5 647.0 374.7 647.4 374.8 647.8 375.0 648.2 375.1 648.6 375.2 649.0 375.3 649.5 375.4 650.0 375.4 650.5 375.4 651.0 375.4 651.5 375.4 652.0 375.4 652.5 375.4 653.0 375.4 653.5 375.5 653.9 375.5 654.4 375.6 654.8 375.7 655.3 375.8 655.7 375.9 656.1 376.0 656.6 376.1 657.0 376.2 657.4 376.3 657.8 376.5 658.2 376.6 658.6 376.8 659.0 377.0 659.4 377.3 659.8 377.6 660.2 378.0 660.6 378.5 661.0 379.0 661.4 379.5 661.7 380.0 662.1 380.6 662.4 381.1 662.8 381.7 663.1 382.2 663.5 382.7 663.8 383.2 664.1 383.6 664.4 384.1 664.7 384.6 665.0 385.1 665.3 385.6 665.6 386.0 665.9 386.5 666.2 386.9 666.5 387.3 666.8 387.7 667.1 388.0 667.4 388.3 667.6 388.5 667.8 388.6 668.0 388.8 668.1 388.9 668.3 389.0 668.5 389.1 668.7 389.2 668.9 389.3 669.0 389.4 669.2 389.4 669.4 389.4 669.6 389.4 669.9 389.3 670.1 389.2 670.4 389.0 670.6 388.8 670.9 388.6 671.1 388.3 671.4 388.0 671.6 387.6 671.9 387.3 672.1 386.9 672.4 386.5 672.6 386.1 673.0 385.4 673.3 384.6 673.6 383.8 673.9 382.8 674.2 381.9 674.5 380.9 674.8 379.8 675.1 378.7 675.4 377.6 675.6 376.6 675.9 375.5 676.2 374.4 676.5 373.2 676.8 371.9 677.2 370.6 677.5 369.3 677.8 368.0 678.1 366.6 678.4 365.2 678.7 363.9 679.0 362.5 679.3 361.1 679.6 359.7 679.9 358.3 680.3 356.8 680.6 355.2 681.0 353.5 681.3 351.9 681.7 350.3 682.1 348.6 682.4 347.0 682.8 345.3 683.2 343.8 683.6 342.2 683.9 340.7 684.3 339.3 684.6 338.2 684.9 337.1 685.2 336.0 685.4 334.9 685.7 333.9 686.0 332.9 686.3 331.9 686.6 330.9 686.9 330.0 687.2 329.1 687.6 328.3 687.9 327.6 688.1 327.2 688.4 326.7 688.6 326.3 688.9 325.9 689.1 325.5 689.4 325.1 689.6 324.8 689.9 324.5 690.1 324.2 690.4 323.9 690.6 323.7 690.9 323.5 691.1 323.4 691.2 323.3 691.4 323.2 691.5 323.1 691.7 323.0 691.9 323.0 692.0 322.9 692.2 322.9 692.3 322.8 692.5 322.8 692.6 322.9 692.8 322.9 693.0 323.0 693.2 323.1 693.5 323.3 693.7 323.5 693.9 323.7 694.1 324.0 694.3 324.3 694.6 324.6 694.8 325.0 694.9 325.3 695.1 325.7 695.3 326.1 695.6 326.9 695.8 327.7 696.0 328.7 696.2 329.8 696.4 330.9 696.5 332.1 696.6 333.3 696.8 334.5 696.9 335.7 697.0 336.9 697.1 338.1 697.2 339.3 697.3 340.5 697.4 341.7 697.5 342.8 697.6 344.0 697.7 345.2 697.8 346.4 697.9 347.6 698.0 348.8 698.0 350.0 698.1 351.3 698.2 352.6 698.3 353.9 698.4 355.6 698.5 357.3 698.6 359.1 698.8 360.9 698.9 362.8 699.0 364.6 699.1 366.5 699.2 368.4 699.3 370.3 699.5 372.2 699.6 374.1 699.7 375.9 699.8 377.7 699.9 379.6 700.1 381.5 700.2 383.4 700.3 385.4 700.4 387.3 700.5 389.1 700.6 391.0 700.8 392.8 700.9 394.5 701.0 396.2 701.1 397.8 701.2 398.9 701.3 400.1 701.4 401.1 701.4 402.2 701.5 403.2 701.6 404.2 701.7 405.2 701.8 406.2 701.8 407.2 701.9 408.1 702.0 409.1 702.1 410.0 702.2 410.8 702.2 411.6 702.3 412.4 702.4 413.2 702.5 414.0 702.5 414.8 702.6 415.6 702.7 416.3 702.8 417.0 702.8 417.7 702.9 418.4 703.0 419.0 703.1 419.4 703.1 419.8 703.2 420.3 703.2 420.7 703.3 421.1 703.3 421.5 703.4 421.9 703.5 422.2 703.5 422.5 703.6 422.7 703.6 422.9 703.7 422.9 703.8 422.9 703.8 422.7 703.9 422.5 704.0 422.2 704.0 421.9 704.1 421.5 704.2 421.1 704.2 420.7 704.3 420.3 704.4 419.8 704.4 419.4 704.5 419.0 704.6 418.4 704.7 417.8 704.8 417.1 704.8 416.4 704.9 415.7 705.0 414.9 705.1 414.2 705.2 413.4 705.3 412.6 705.3 411.7 705.4 410.9 705.5 410.0 705.6 408.7 705.7 407.4 705.9 406.0 706.0 404.5 706.1 403.1 706.3 401.5 706.4 400.0 706.5 398.4 706.6 396.8 706.8 395.2 706.9 393.6 707.0 392.0 707.1 390.2 707.3 388.3 707.4 386.3 707.5 384.3 707.6 382.3 707.7 380.3 707.8 378.3 708.0 376.3 708.1 374.4 708.2 372.4 708.3 370.5 708.4 368.6 708.5 366.9 708.6 365.3 708.7 363.6 708.8 362.0 708.9 360.4 708.9 358.8 709.0 357.2 709.1 355.6 709.2 354.0 709.3 352.5 709.4 351.0 709.5 349.5 709.6 348.2 709.7 346.9 709.7 345.6 709.8 344.3 709.9 343.0 709.9 341.8 710.0 340.5 710.1 339.3 710.2 338.1 710.3 337.0 710.5 335.9 710.6 334.9 710.7 334.2 710.8 333.5 711.0 332.7 711.1 332.0 711.2 331.3 711.4 330.7 711.5 330.0 711.7 329.5 711.9 328.9 712.0 328.4 712.2 328.0 712.4 327.6 712.5 327.4 712.6 327.3 712.7 327.1 712.8 327.0 712.9 326.9 713.0 326.7 713.1 326.6 713.2 326.5 713.3 326.5 713.4 326.4 713.5 326.4 713.6 326.4 713.7 326.4 713.9 326.5 714.0 326.7 714.2 326.8 714.3 327.1 714.5 327.3 714.6 327.6 714.8 327.8 714.9 328.1 715.0 328.4 715.2 328.7 715.3 329.0 715.5 329.5 715.7 330.0 715.8 330.5 716.0 331.1 716.2 331.7 716.3 332.4 716.5 333.0 716.6 333.7 716.7 334.4 716.9 335.1 717.0 335.7 717.2 336.4 717.4 337.2 717.5 338.0 717.7 338.8 717.8 339.7 718.0 340.6 718.1 341.5 718.3 342.3 718.5 343.1 718.7 343.9 718.9 344.7 719.1 345.3 719.4 345.9 719.6 346.2 719.8 346.5 720.0 346.8 720.2 347.1 720.4 347.3 720.7 347.6 720.9 347.8 721.2 348.0 721.4 348.2 721.7 348.4 722.0 348.6 722.3 348.8 722.7 349.0 723.1 349.2 723.6 349.4 724.1 349.6 724.6 349.8 725.2 349.9 725.7 350.1 726.2 350.2 726.7 350.4 727.3 350.6 727.7 350.8 728.2 351.0 728.6 351.2 729.0 351.5 729.4 351.8 729.8 352.1 730.2 352.4 730.6 352.8 730.9 353.1 731.3 353.3 731.6 353.6 732.0 353.7 732.3 353.9 732.6 353.9 732.8 353.9 733.0 353.8 733.2 353.8 733.4 353.7 733.6 353.6 733.8 353.5 734.0 353.3 734.1 353.2 734.3 353.0 734.5 352.8 734.6 352.7 734.8 352.5 735.0 352.2 735.2 351.9 735.4 351.6 735.6 351.2 735.7 350.9 735.9 350.5 736.1 350.1 736.2 349.7 736.4 349.3 736.6 349.0 736.8 348.7 737.0 348.4 737.2 348.2 737.3 348.0 737.5 347.8 737.7 347.7 737.9 347.5 738.1 347.3 738.3 347.2 738.5 347.1 738.7 347.0 738.9 346.9 739.0 346.9 739.2 346.9 739.4 347.0 739.6 347.0 739.7 347.2 739.9 347.4 740.1 347.6 740.2 347.8 740.4 348.0 740.5 348.3 740.7 348.6 740.8 348.9 741.0 349.2 741.1 349.5 741.3 350.1 741.5 350.8 741.7 351.5 741.8 352.3 742.0 353.2 742.1 354.1 742.2 355.0 742.3 355.9 742.4 356.9 742.6 357.9 742.7 358.8 742.8 359.8 743.0 361.0 743.1 362.3 743.3 363.6 743.4 365.0 743.6 366.3 743.7 367.7 743.8 369.1 744.0 370.5 744.1 371.9 744.3 373.3 744.4 374.6 744.6 375.9 744.7 377.1 744.9 378.3 745.0 379.5 745.2 380.7 745.3 381.9 745.5 383.0 745.6 384.2 745.8 385.3 746.0 386.3 746.1 387.3 746.3 388.3 746.5 389.1 746.6 389.6 746.7 390.1 746.9 390.6 747.0 391.1 747.1 391.6 747.2 392.0 747.4 392.4 747.5 392.8 747.6 393.1 747.7 393.3 747.9 393.4 748.0 393.5 748.1 393.5 748.2 393.3 748.4 393.1 748.5 392.8 748.6 392.5 748.7 392.1 748.9 391.7 749.0 391.3 749.1 390.9 749.2 390.5 749.3 390.1 749.4 389.8 749.5 389.5 749.6 389.2 749.6 388.9 749.7 388.6 749.8 388.3 749.8 388.0 749.9 387.6 750.0 387.3 750.0 387.0 750.1 386.7 750.1 386.4 750.2 386.1"/>
<!-- axes -->
<path class="ax" d="M148.7 16.3V623.3H773.6"/>
<line x1="148.7" y1="613.99" x2="158.2" y2="613.99" class="min"/>
<line x1="148.7" y1="591.92" x2="158.2" y2="591.92" class="min"/>
<line x1="148.7" y1="569.85" x2="164.6" y2="569.85" class="maj"/>
<line x1="148.7" y1="547.78" x2="158.2" y2="547.78" class="min"/>
<line x1="148.7" y1="525.71" x2="158.2" y2="525.71" class="min"/>
<line x1="148.7" y1="503.64" x2="158.2" y2="503.64" class="min"/>
<line x1="148.7" y1="481.57" x2="158.2" y2="481.57" class="min"/>
<line x1="148.7" y1="459.50" x2="164.6" y2="459.50" class="maj"/>
<line x1="148.7" y1="437.43" x2="158.2" y2="437.43" class="min"/>
<line x1="148.7" y1="415.36" x2="158.2" y2="415.36" class="min"/>
<line x1="148.7" y1="393.29" x2="158.2" y2="393.29" class="min"/>
<line x1="148.7" y1="371.22" x2="158.2" y2="371.22" class="min"/>
<line x1="148.7" y1="349.15" x2="164.6" y2="349.15" class="maj"/>
<line x1="148.7" y1="327.08" x2="158.2" y2="327.08" class="min"/>
<line x1="148.7" y1="305.01" x2="158.2" y2="305.01" class="min"/>
<line x1="148.7" y1="282.94" x2="158.2" y2="282.94" class="min"/>
<line x1="148.7" y1="260.87" x2="158.2" y2="260.87" class="min"/>
<line x1="148.7" y1="238.80" x2="164.6" y2="238.80" class="maj"/>
<line x1="148.7" y1="216.73" x2="158.2" y2="216.73" class="min"/>
<line x1="148.7" y1="194.66" x2="158.2" y2="194.66" class="min"/>
<line x1="148.7" y1="172.59" x2="158.2" y2="172.59" class="min"/>
<line x1="148.7" y1="150.52" x2="158.2" y2="150.52" class="min"/>
<line x1="148.7" y1="128.45" x2="164.6" y2="128.45" class="maj"/>
<line x1="148.7" y1="106.38" x2="158.2" y2="106.38" class="min"/>
<line x1="148.7" y1="84.31" x2="158.2" y2="84.31" class="min"/>
<line x1="148.7" y1="62.24" x2="158.2" y2="62.24" class="min"/>
<line x1="148.7" y1="40.17" x2="158.2" y2="40.17" class="min"/>
<line x1="148.7" y1="18.10" x2="164.6" y2="18.10" class="maj"/>
<line x1="172.80" y1="623.3" x2="172.80" y2="607.6" class="maj"/>
<line x1="211.25" y1="623.3" x2="211.25" y2="613.7" class="min"/>
<line x1="249.70" y1="623.3" x2="249.70" y2="613.7" class="min"/>
<line x1="288.15" y1="623.3" x2="288.15" y2="613.7" class="min"/>
<line x1="326.60" y1="623.3" x2="326.60" y2="613.7" class="min"/>
<line x1="365.05" y1="623.3" x2="365.05" y2="607.6" class="maj"/>
<line x1="403.50" y1="623.3" x2="403.50" y2="613.7" class="min"/>
<line x1="441.95" y1="623.3" x2="441.95" y2="613.7" class="min"/>
<line x1="480.40" y1="623.3" x2="480.40" y2="613.7" class="min"/>
<line x1="518.85" y1="623.3" x2="518.85" y2="613.7" class="min"/>
<line x1="557.30" y1="623.3" x2="557.30" y2="607.6" class="maj"/>
<line x1="595.75" y1="623.3" x2="595.75" y2="613.7" class="min"/>
<line x1="634.20" y1="623.3" x2="634.20" y2="613.7" class="min"/>
<line x1="672.65" y1="623.3" x2="672.65" y2="613.7" class="min"/>
<line x1="711.10" y1="623.3" x2="711.10" y2="613.7" class="min"/>
<line x1="749.55" y1="623.3" x2="749.55" y2="607.6" class="maj"/>
<text transform="translate(115.0 28.1) scale(0.920 1)" class="tl" text-anchor="end" xml:space="preserve">1 5x10</text>
<text x="139.5" y="13.9" class="tl sup" text-anchor="end">+04</text>
<text transform="translate(115.0 138.4) scale(0.920 1)" class="tl" text-anchor="end" xml:space="preserve">1 0x10</text>
<text x="139.5" y="124.2" class="tl sup" text-anchor="end">+04</text>
<text transform="translate(115.0 248.8) scale(0.920 1)" class="tl" text-anchor="end" xml:space="preserve">5 0x10</text>
<text x="139.5" y="234.6" class="tl sup" text-anchor="end">+03</text>
<text transform="translate(115.0 359.1) scale(0.920 1)" class="tl" text-anchor="end" xml:space="preserve">0x10</text>
<text x="139.5" y="344.9" class="tl sup" text-anchor="end">+00</text>
<text transform="translate(115.0 469.5) scale(0.920 1)" class="tl" text-anchor="end" xml:space="preserve">-5 0x10</text>
<text x="139.5" y="455.3" class="tl sup" text-anchor="end">+03</text>
<text transform="translate(115.0 579.8) scale(0.920 1)" class="tl" text-anchor="end" xml:space="preserve">-1 0x10</text>
<text x="139.5" y="565.6" class="tl sup" text-anchor="end">+04</text>
<text transform="translate(172.5 649.8) scale(0.920 1)" class="tl" style="letter-spacing:0.4px" text-anchor="middle" xml:space="preserve">0</text>
<text transform="translate(364.8 649.8) scale(0.920 1)" class="tl" style="letter-spacing:0.4px" text-anchor="middle" xml:space="preserve">0 01</text>
<text transform="translate(557.0 649.8) scale(0.920 1)" class="tl" style="letter-spacing:0.4px" text-anchor="middle" xml:space="preserve">0 02</text>
<text transform="translate(749.2 649.8) scale(0.920 1)" class="tl" style="letter-spacing:0.4px" text-anchor="middle" xml:space="preserve">0 03</text>
<text class="ttl" xml:space="preserve" text-anchor="middle" transform="translate(457.5 674.2) scale(1.065 1)">Time  ms</text>
<text class="ttl" xml:space="preserve" text-anchor="middle" style="font-size:29.8px" transform="translate(25 323.3) rotate(-90) scale(0.956 1)">Overpressure  Pa</text>
<text class="g1" transform="translate(175.3 567.9) scale(0.885 1)">G1</text>
<!-- legend -->
<line x1="604.7" y1="103" x2="712.1" y2="103" stroke="#111" stroke-width="3.5"/>
<line x1="604.7" y1="131.5" x2="712.1" y2="131.5" stroke="#111" stroke-width="3.3" stroke-dasharray="13.9 17.8"/>
<line x1="604.7" y1="159.4" x2="712.1" y2="159.4" stroke="#3a3a3a" stroke-width="1.1"/>
<text class="lg" xml:space="preserve" x="730.1" y="109.8">3M</text>
<text class="lg" xml:space="preserve" x="730.1" y="138.6">1 2M</text>
<text class="lg" xml:space="preserve" x="730.1" y="166.3">600K</text>
</svg>
</body></html>
